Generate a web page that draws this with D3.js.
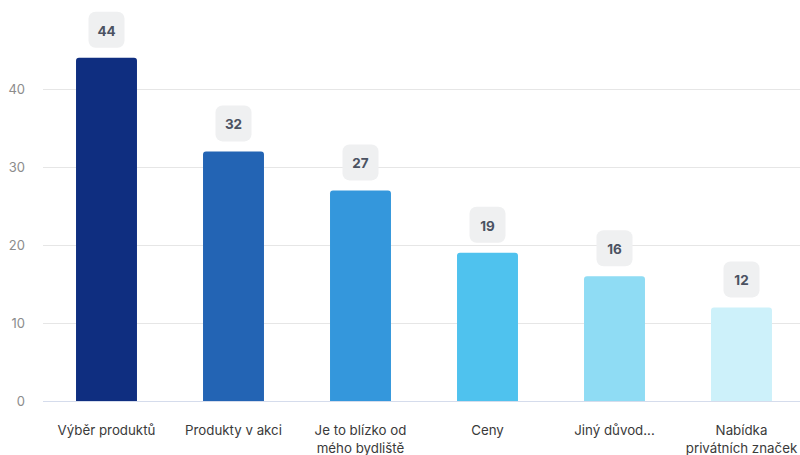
<!DOCTYPE html>
<html><head><meta charset="utf-8">
<script src="https://cdn.jsdelivr.net/npm/d3@7"></script>
<style>body{margin:0;background:#fff;}svg{display:block;font-family:Inter, "Noto Sans", sans-serif;}</style>
</head><body>
<svg id="c" width="800" height="455"></svg>
<script>
const categories = [["Výběr produktů"],["Produkty v akci"],["Je to blízko od","mého bydliště"],["Ceny"],["Jiný důvod..."],["Nabídka","privátních značek"]];
const values = [44,32,27,19,16,12];
const colors = ["#0f2e80","#2364b4","#3497dc","#4fc2ee","#8fdcf4","#cdf1fa"];
const yTicks = [0,10,20,30,40];

const svg = d3.select("#c");
const x = d3.scaleBand().domain(d3.range(values.length)).range([43,805]).paddingInner(0.52).paddingOuter(0.26);
const y = d3.scaleLinear().domain([0,40]).range([401,89]);

svg.append("g").selectAll("line").data(yTicks).join("line")
  .attr("x1",43).attr("x2",800).attr("y1",d=>y(d)+0.5).attr("y2",d=>y(d)+0.5)
  .attr("stroke",d=>d===0?"#d5dcec":"#e6e6e6").attr("stroke-width",1);

svg.append("g").selectAll("text").data(yTicks).join("text")
  .attr("x",25).attr("y",d=>y(d)).attr("dy","0.35em").attr("text-anchor","end")
  .attr("font-size",13).attr("fill","#8c8c8c").text(d=>d);

const r = 3;
svg.append("g").selectAll("path").data(values).join("path")
  .attr("fill",(d,i)=>colors[i])
  .attr("d",(d,i)=>{
    const x0=x(i), w=x.bandwidth(), y0=y(d), y1=y(0);
    return `M${x0},${y1}V${y0+r}Q${x0},${y0} ${x0+r},${y0}H${x0+w-r}Q${x0+w},${y0} ${x0+w},${y0+r}V${y1}Z`;
  });

const lab = svg.append("g").selectAll("g").data(values).join("g")
  .attr("transform",(d,i)=>`translate(${x(i)+x.bandwidth()/2},${y(d)-10})`);
lab.append("rect").attr("x",-18).attr("y",-36).attr("width",36).attr("height",36).attr("rx",7).attr("fill","#eff0f1");
lab.append("text").attr("y",-17).attr("dy","0.35em").attr("text-anchor","middle")
  .attr("font-size",13.5).attr("font-weight",700).attr("fill","#4b5262").text(d=>d);

const cl = svg.append("g").selectAll("text").data(categories).join("text")
  .attr("x",(d,i)=>x(i)+x.bandwidth()/2).attr("y",430).attr("dy","0.35em")
  .attr("text-anchor","middle").attr("font-size",13.3).attr("fill","#3a3a3a");
cl.selectAll("tspan").data(d=>d).join("tspan")
  .attr("x",function(){return this.parentNode.getAttribute("x");})
  .attr("dy",(d,j)=>j===0?"0.35em":"1.4em").text(d=>d);
</script>
</body></html>
